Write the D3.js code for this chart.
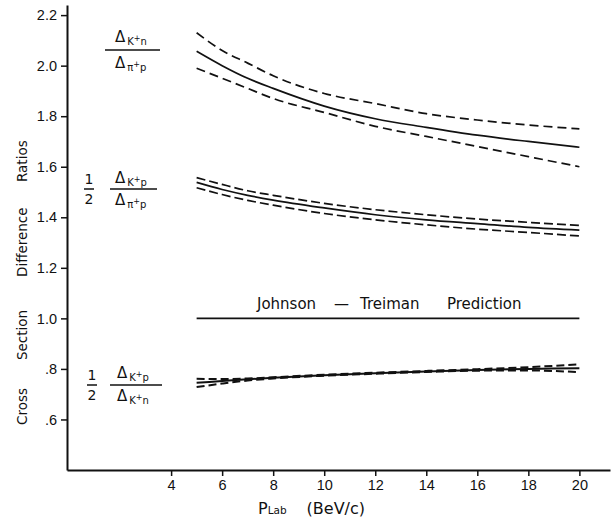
<!DOCTYPE html>
<html>
<head>
<meta charset="utf-8">
<script src="https://cdn.jsdelivr.net/npm/d3@7"></script>
<style>
  body { margin: 0; background: #fff; }
  svg { display: block; font-family: "DejaVu Sans", sans-serif; }
</style>
</head>
<body>
<svg id="chart" width="611" height="521"></svg>
<script>
const width = 611
const height = 521

// momentum points (BeV/c)
const pLab = [5, 6, 7, 8, 10, 12, 14, 16, 18, 20]

// Δ(K+n) / Δ(π+p)
const knPi   = [2.057, 2.00, 1.95, 1.91, 1.84, 1.79, 1.756, 1.725, 1.70, 1.677]
const knPiHi = [2.13, 2.06, 2.01, 1.96, 1.89, 1.85, 1.81, 1.785, 1.765, 1.75]
const knPiLo = [1.99, 1.95, 1.91, 1.87, 1.815, 1.76, 1.72, 1.68, 1.64, 1.60]

// 1/2 Δ(K+p) / Δ(π+p)
const kpPi   = [1.538, 1.51, 1.487, 1.468, 1.437, 1.41, 1.39, 1.375, 1.36, 1.349]
const kpPiHi = [1.557, 1.53, 1.505, 1.487, 1.455, 1.43, 1.41, 1.393, 1.38, 1.368]
const kpPiLo = [1.517, 1.49, 1.467, 1.448, 1.415, 1.39, 1.37, 1.353, 1.34, 1.326]

// 1/2 Δ(K+p) / Δ(K+n)
const kpKn   = [0.745, 0.752, 0.759, 0.765, 0.775, 0.783, 0.79, 0.796, 0.80, 0.803]
const kpKnHi = [0.761, 0.76, 0.762, 0.767, 0.777, 0.785, 0.792, 0.799, 0.807, 0.818]
const kpKnLo = [0.728, 0.742, 0.754, 0.762, 0.773, 0.781, 0.788, 0.793, 0.794, 0.787]

// Johnson - Treiman prediction
const jtP = [5, 20]
const jtValue = [1.0, 1.0]

const xTicks = [4, 6, 8, 10, 12, 14, 16, 18, 20]
const yTicks = [0.6, 0.8, 1.0, 1.2, 1.4, 1.6, 1.8, 2.0, 2.2]
const yTickLabels = [".6", ".8", "1.0", "1.2", "1.4", "1.6", "1.8", "2.0", "2.2"]

const svg = d3.select("#chart")

const x = d3.scaleLinear().domain([-0.08, 21.2]).range([67, 610])
const y = d3.scaleLinear().domain([0.4, 2.24]).range([470, 5])

const xAxis = g => g
    .attr("transform", `translate(0,${y(0.4)})`)
    .call(d3.axisBottom(x).tickValues(xTicks).tickSize(6).tickSizeOuter(0).tickPadding(4))
    .call(g => g.selectAll(".tick text").attr("font-size", 14.5).attr("fill", "#111"))

const yAxis = g => g
    .attr("transform", `translate(${x(-0.08)},0)`)
    .call(d3.axisLeft(y).tickValues(yTicks).tickSize(6).tickSizeOuter(0).tickPadding(4)
        .tickFormat((d, i) => yTickLabels[i]))
    .call(g => g.selectAll(".tick text").attr("font-size", 14.5).attr("fill", "#111"))

svg.append("g").attr("class", "x-axis").call(xAxis)
svg.append("g").attr("class", "y-axis").call(yAxis)
svg.selectAll(".domain").attr("stroke", "#111").attr("stroke-width", 2)
svg.selectAll(".tick line").attr("stroke", "#111").attr("stroke-width", 1.5)

const line = d3.line()
    .x((d, i) => x(pLab[i]))
    .y(d => y(d))
    .curve(d3.curveMonotoneX)

const curves = [
    { v: knPi, dash: null }, { v: knPiHi, dash: "9,5" }, { v: knPiLo, dash: "9,5" },
    { v: kpPi, dash: null }, { v: kpPiHi, dash: "9,4" }, { v: kpPiLo, dash: "9,4" },
    { v: kpKn, dash: null, w: 2 }, { v: kpKnHi, dash: "8,4", w: 2 }, { v: kpKnLo, dash: "8,4", w: 2 }
]

svg.append("g").attr("class", "curves")
    .selectAll("path")
    .data(curves)
    .join("path")
    .attr("d", d => line(d.v))
    .attr("fill", "none")
    .attr("stroke", "#111")
    .attr("stroke-width", d => d.w || 1.7)
    .attr("stroke-dasharray", d => d.dash)

svg.append("line")
    .attr("x1", x(jtP[0])).attr("x2", x(jtP[1]))
    .attr("y1", y(jtValue[0])).attr("y2", y(jtValue[1]))
    .attr("stroke", "#111").attr("stroke-width", 1.7)

const jt = svg.append("text").attr("y", 309).attr("font-size", 15).attr("fill", "#111")
jt.append("tspan").attr("x", 257).text("Johnson")
jt.append("tspan").attr("x", 334).text("—")
jt.append("tspan").attr("x", 360).text("Treiman")
jt.append("tspan").attr("x", 447).text("Prediction")

// axis titles
const yTitle = [
    { t: "Cross", y: 425 },
    { t: "Section", y: 360 },
    { t: "Difference", y: 277 },
    { t: "Ratios", y: 182 }
]
svg.append("g").selectAll("text")
    .data(yTitle)
    .join("text")
    .attr("transform", d => `translate(27,${d.y}) rotate(-90)`)
    .attr("font-size", 13.5)
    .attr("fill", "#111")
    .text(d => d.t)

const xt = svg.append("text").attr("x", 258).attr("y", 514).attr("fill", "#111").attr("font-size", 16)
xt.append("tspan").text("P")
xt.append("tspan").attr("font-size", 10.5).text("Lab")
xt.append("tspan").attr("dx", 20).text("(BeV/c)")

// ratio labels
function delta(xPos, yPos, a, b) {
    const t = svg.append("text").attr("x", xPos).attr("y", yPos).attr("fill", "#111").attr("font-size", 15)
    t.append("tspan").text("Δ")
    t.append("tspan").attr("dx", 2).attr("dy", 3).attr("font-size", 10).text(a)
    t.append("tspan").attr("dy", -4).attr("font-size", 8).text("+")
    t.append("tspan").attr("dy", 4).attr("font-size", 10).text(b)
}
function bar(x1, x2, yPos) {
    svg.append("line").attr("x1", x1).attr("x2", x2).attr("y1", yPos).attr("y2", yPos)
        .attr("stroke", "#111").attr("stroke-width", 1.5)
}
function half(xPos, yPos) {
    svg.append("text").attr("x", xPos).attr("y", yPos - 5).attr("text-anchor", "middle")
        .attr("font-size", 14).attr("fill", "#111").text("1")
    svg.append("text").attr("x", xPos).attr("y", yPos + 15).attr("text-anchor", "middle")
        .attr("font-size", 14).attr("fill", "#111").text("2")
    bar(xPos - 5, xPos + 5, yPos)
}

delta(115, 42, "K", "n"); bar(105, 160, 50); delta(115, 68, "π", "p")
half(89, 189); delta(115, 183, "K", "p"); bar(110, 157, 189); delta(115, 205, "π", "p")
half(92, 385); delta(117, 378, "K", "p"); bar(110, 162, 385); delta(117, 401, "K", "n")
</script>
</body>
</html>
